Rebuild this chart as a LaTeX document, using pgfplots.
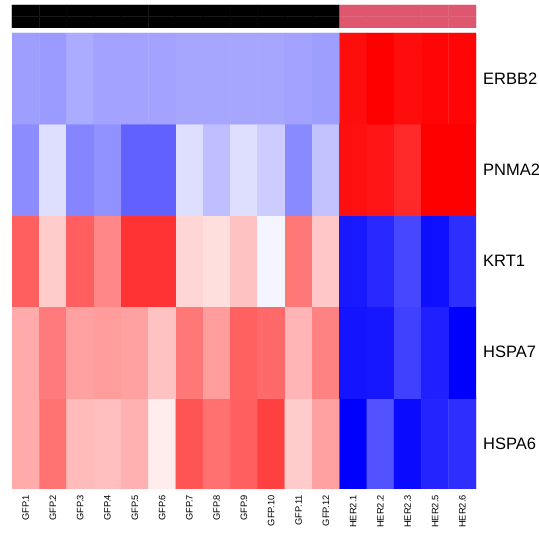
\documentclass[border=0pt]{standalone}
\usepackage{pgfplots}
\pgfplotsset{compat=1.18}
\usepackage{fontspec}
\setmainfont{Liberation Sans}
\begin{document}
\begin{tikzpicture}
\path[use as bounding box] (0pt,0pt) rectangle (539pt,534pt);
\begin{axis}[at={(12pt,45pt)}, anchor=south west, scale only axis,
  width=464pt, height=456pt,
  xmin=-0.5, xmax=16.5, ymin=-0.5, ymax=4.5, enlargelimits=false,
  axis line style={draw=none}, major tick length=0pt,
  xtick={0,...,16},
  xticklabels={GFP.1,GFP.2,GFP.3,GFP.4,GFP.5,GFP.6,GFP.7,GFP.8,GFP.9,GFP.10,GFP.11,GFP.12,HER2.1,HER2.2,HER2.3,HER2.5,HER2.6},
  ytick={0,...,4},
  yticklabels={HSPA6,HSPA7,KRT1,PNMA2,ERBB2},
  yticklabel pos=right,
  xticklabel style={rotate=90, anchor=east, inner sep=0pt, font=\fontsize{9.3}{10}\selectfont},
  xticklabel shift=6pt,
  yticklabel style={anchor=west, inner sep=0pt, font=\fontsize{16.5}{18}\selectfont},
  yticklabel shift=7pt,
  colormap={bwr}{rgb255=(0,0,255) rgb255=(255,255,255) rgb255=(255,0,0)},
  point meta min=-1, point meta max=1]
\addplot[matrix plot*, mesh/cols=17, point meta=explicit] table[meta=c] {
x y c
0 0 0.33
1 0 0.55
2 0 0.27
3 0 0.25
4 0 0.31
5 0 0.07
6 0 0.67
7 0 0.56
8 0 0.63
9 0 0.75
10 0 0.20
11 0 0.37
12 0 -1.00
13 0 -0.68
14 0 -0.96
15 0 -0.86
16 0 -0.82
0 1 0.33
1 1 0.52
2 1 0.37
3 1 0.39
4 1 0.37
5 1 0.24
6 1 0.53
7 1 0.39
8 1 0.62
9 1 0.59
10 1 0.29
11 1 0.49
12 1 -0.92
13 1 -0.91
14 1 -0.75
15 1 -0.88
16 1 -1.00
0 2 0.63
1 2 0.20
2 2 0.63
3 2 0.47
4 2 0.80
5 2 0.80
6 2 0.16
7 2 0.13
8 2 0.24
9 2 -0.04
10 2 0.53
11 2 0.22
12 2 -0.90
13 2 -0.84
14 2 -0.72
15 2 -0.94
16 2 -0.82
0 3 -0.45
1 3 -0.13
2 3 -0.48
3 3 -0.43
4 3 -0.62
5 3 -0.62
6 3 -0.13
7 3 -0.25
8 3 -0.13
9 3 -0.20
10 3 -0.46
11 3 -0.24
12 3 0.94
13 3 0.92
14 3 0.84
15 3 1.00
16 3 1.00
0 4 -0.38
1 4 -0.39
2 4 -0.33
3 4 -0.36
4 4 -0.36
5 4 -0.36
6 4 -0.35
7 4 -0.35
8 4 -0.35
9 4 -0.35
10 4 -0.36
11 4 -0.38
12 4 0.95
13 4 1.00
14 4 0.95
15 4 0.98
16 4 0.98
};
\end{axis}
\begin{axis}[at={(12pt,506pt)}, anchor=south west, scale only axis,
  width=464pt, height=23pt,
  xmin=-0.5, xmax=16.5, ymin=-0.5, ymax=1.5, enlargelimits=false,
  hide axis,
  colormap={ann}{rgb255=(0,0,0) rgb255=(222,87,111)},
  point meta min=0, point meta max=1]
\addplot[matrix plot*, mesh/cols=17, point meta=explicit] table[meta=c] {
x y c
0 0 0
1 0 0
2 0 0
3 0 0
4 0 0
5 0 0
6 0 0
7 0 0
8 0 0
9 0 0
10 0 0
11 0 0
12 0 1
13 0 1
14 0 1
15 0 1
16 0 1
0 1 0
1 1 0
2 1 0
3 1 0
4 1 0
5 1 0
6 1 0
7 1 0
8 1 0
9 1 0
10 1 0
11 1 0
12 1 1
13 1 1
14 1 1
15 1 1
16 1 1
};
\end{axis}
\end{tikzpicture}
\end{document}
